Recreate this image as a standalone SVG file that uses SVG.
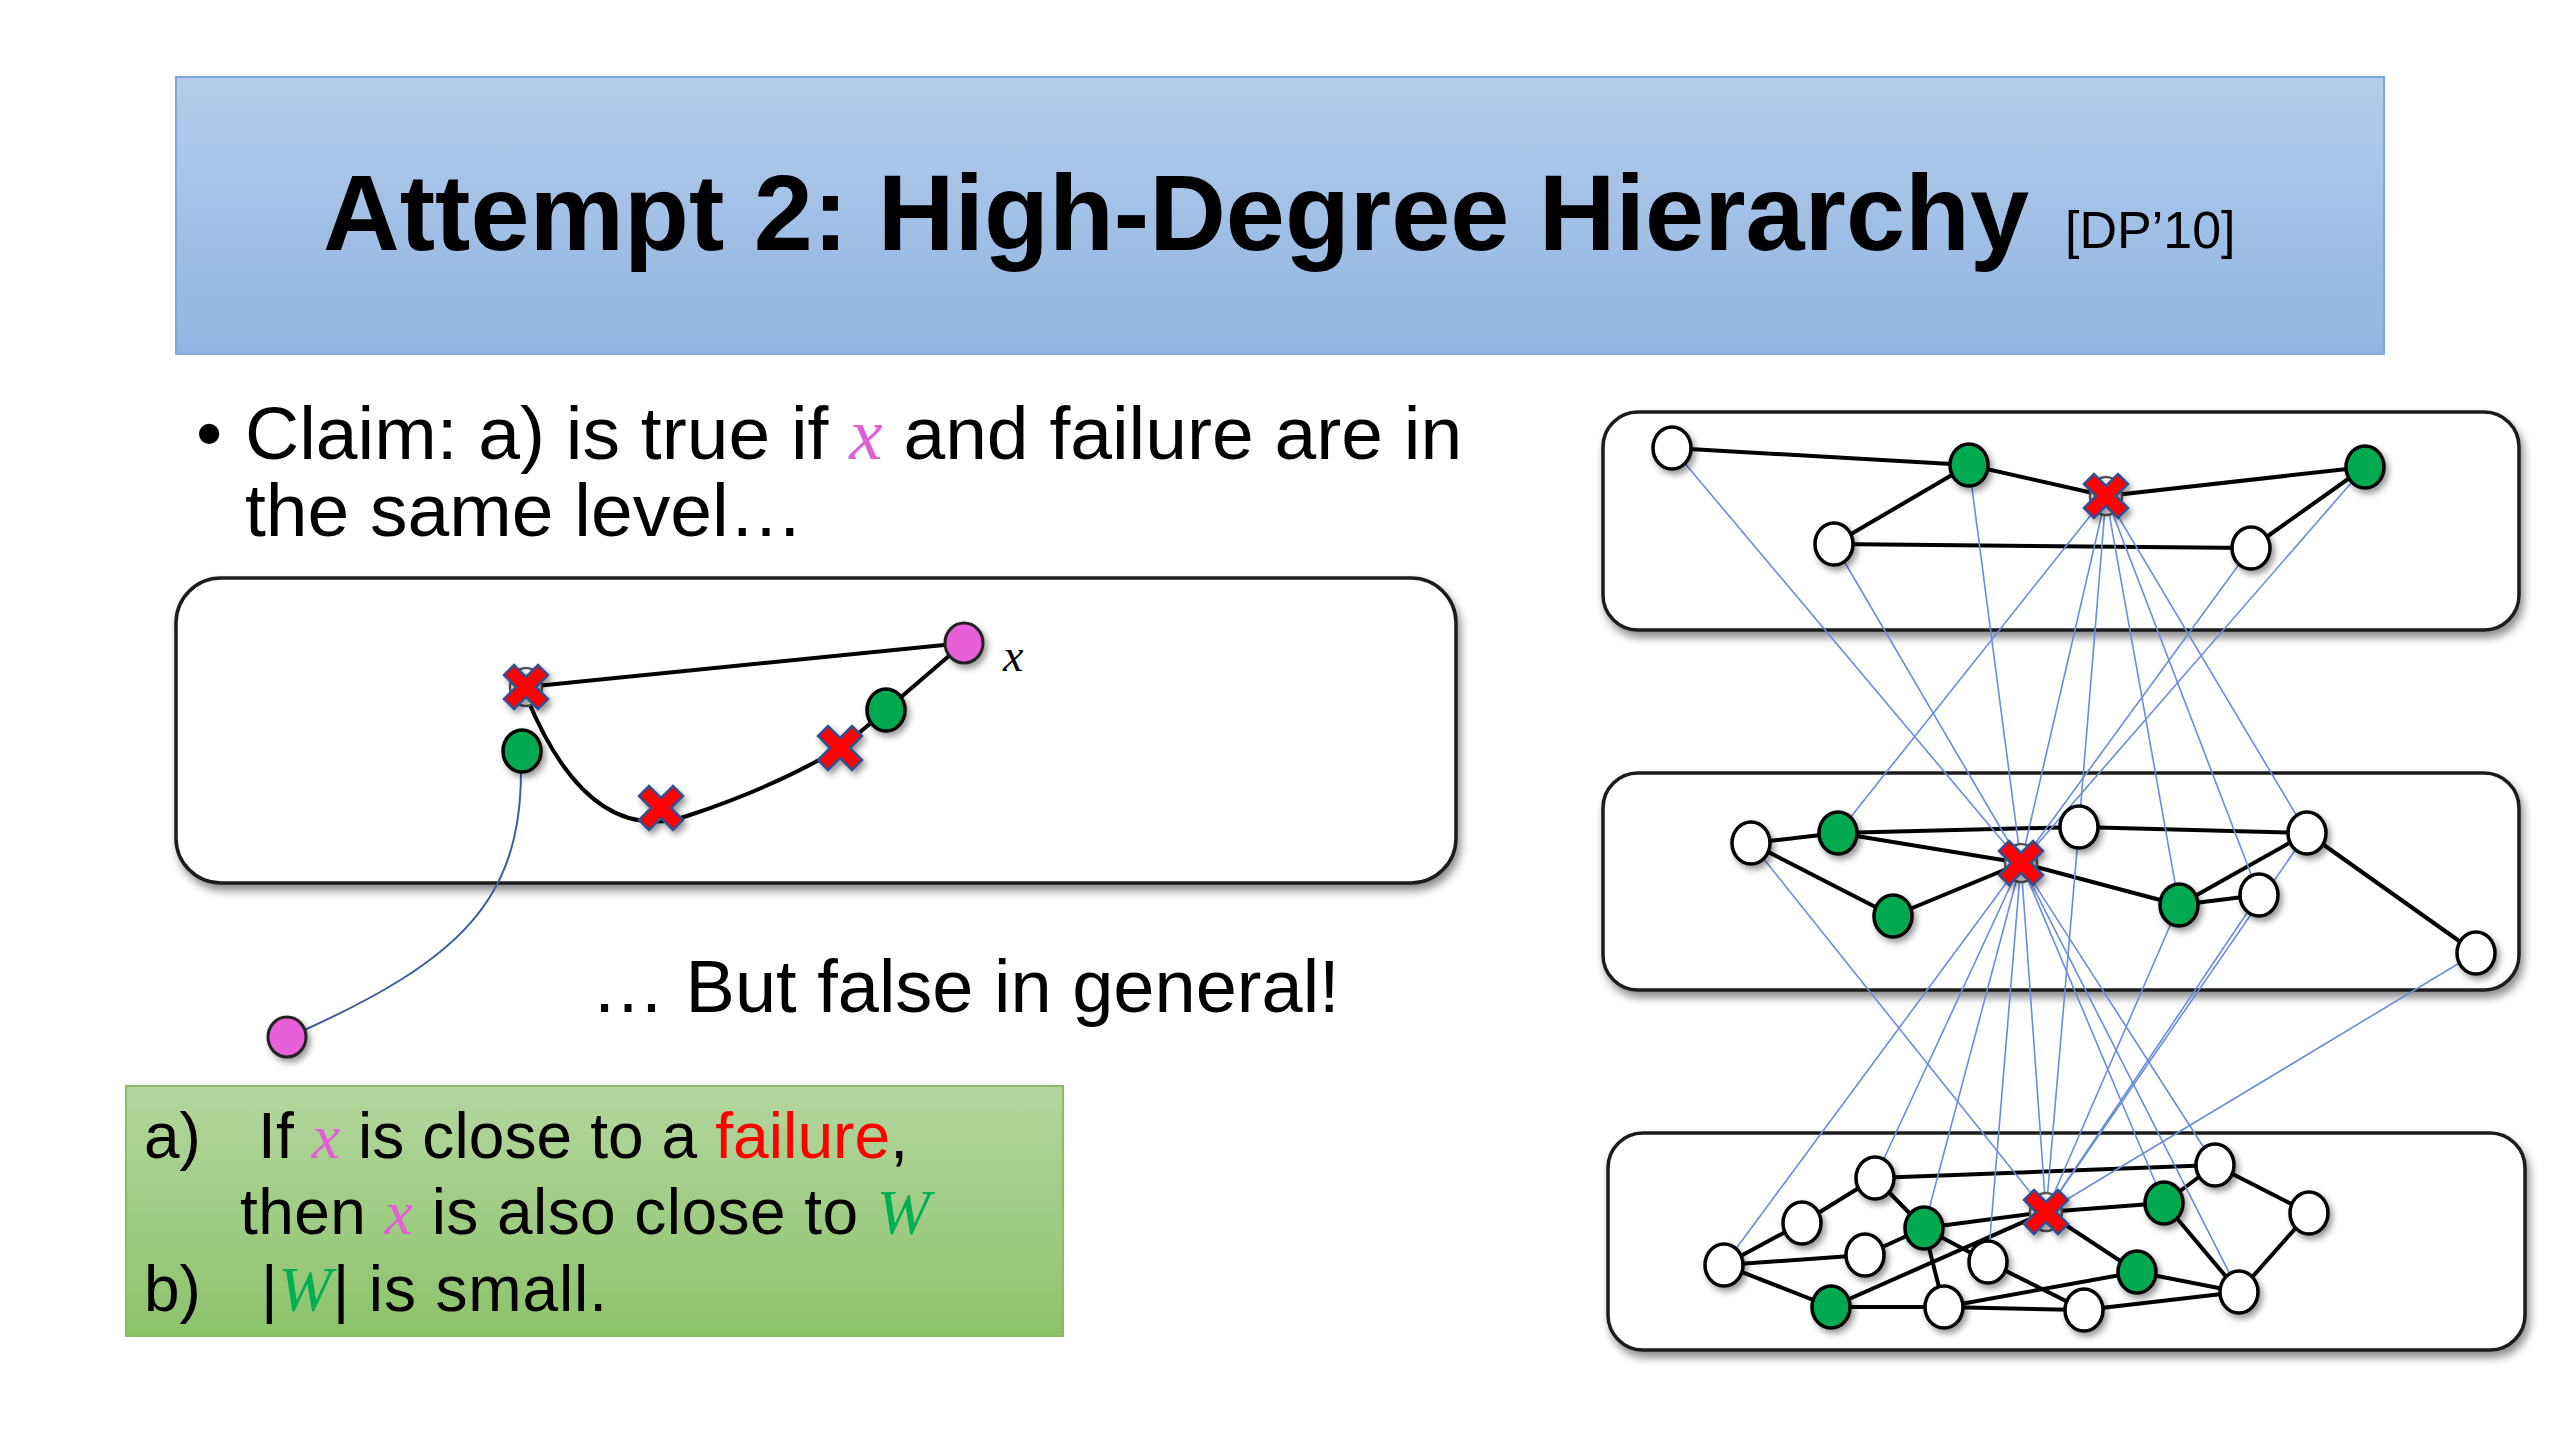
<svg xmlns="http://www.w3.org/2000/svg" width="2560" height="1440" viewBox="0 0 2560 1440">
<defs>
<linearGradient id="gTitle" x1="0" y1="0" x2="0" y2="1"><stop offset="0" stop-color="#b4cdea"/><stop offset="1" stop-color="#90b4e2"/></linearGradient>
<linearGradient id="gGreen" x1="0" y1="0" x2="0" y2="1"><stop offset="0" stop-color="#b3d69e"/><stop offset="1" stop-color="#8dc36b"/></linearGradient>
<filter id="shPanel" x="-5%" y="-10%" width="110%" height="125%"><feDropShadow dx="3" dy="6" stdDeviation="4" flood-color="#000" flood-opacity="0.45"/></filter>
<filter id="shNode" x="-50%" y="-50%" width="200%" height="200%"><feDropShadow dx="3" dy="4" stdDeviation="3" flood-color="#000" flood-opacity="0.4"/></filter>
<polygon id="xmark" points="22,12 12,22 0,10 -12,22 -22,12 -10,0 -22,-12 -12,-22 0,-10 12,-22 22,-12 10,0"/>
<style>
.panel{fill:#fff;stroke:#1a1a1a;stroke-width:3.5;filter:url(#shPanel)}
.nw{fill:#fff;stroke:#000;stroke-width:3.5;filter:url(#shNode)}
.ng{fill:#00a84f;stroke:#000;stroke-width:3.5;filter:url(#shNode)}
.np{fill:#e860d8;stroke:#222;stroke-width:3;filter:url(#shNode)}
.nbehind{fill:#fff;stroke:#555;stroke-width:2.5}
.xm{fill:#ff0000;stroke:#34508f;stroke-width:2.5;filter:url(#shNode)}
.e{stroke:#000;stroke-width:4;fill:none}
.b{stroke:#6a8dd8;stroke-width:1.6;fill:none}
.t{font-family:"Liberation Sans",Arial,sans-serif;fill:#000}
.m{font-family:"Liberation Serif","Times New Roman",serif;font-style:italic}
</style>
</defs>
<rect width="2560" height="1440" fill="#fff"/>

<g id="title">
<rect x="176" y="77" width="2208" height="277" fill="url(#gTitle)" stroke="#82a8da" stroke-width="2"/>
<text class="t" x="323" y="250" font-size="108" font-weight="bold" textLength="1706" lengthAdjust="spacingAndGlyphs">Attempt 2: High-Degree Hierarchy</text>
<text class="t" x="2065" y="248" font-size="52">[DP’10]</text>
</g>

<g id="claim">
<text class="t" x="196" y="459" font-size="75">•</text>
<text class="t" x="245" y="459" font-size="75">Claim: a) is true if <tspan class="m" fill="#e25fd3">x</tspan> and failure are in</text>
<text class="t" x="245" y="536" font-size="75">the same level…</text>
</g>

<g id="panels">
<rect id="left-panel" class="panel" x="176" y="578" width="1280" height="305" rx="45"/>
<rect id="level-top" class="panel" x="1603" y="412" width="916" height="218" rx="35"/>
<rect id="level-mid" class="panel" x="1603" y="773" width="916" height="217" rx="35"/>
<rect id="level-bottom" class="panel" x="1608" y="1133" width="917" height="217" rx="35"/>
</g>

<g id="connectors">
<g id="left-edges">
<line class="e" x1="526" y1="687" x2="964" y2="643"/>
<path class="e" d="M527 698 Q590 850 690 815 Q780 785 845 745 L886 710 L964 643"/>
<path d="M521 771 C521 900 460 960 300 1032" stroke="#3e5f9e" stroke-width="2" fill="none"/>
</g>
<g id="edges-top">
<line class="e" x1="1672" y1="448" x2="1969" y2="465"/>
<line class="e" x1="1969" y1="465" x2="2106" y2="496"/>
<line class="e" x1="2106" y1="496" x2="2365" y2="467"/>
<line class="e" x1="1969" y1="465" x2="1834" y2="544"/>
<line class="e" x1="1834" y1="544" x2="2251" y2="548"/>
<line class="e" x1="2251" y1="548" x2="2365" y2="467"/>
</g>
<g id="edges-mid">
<line class="e" x1="1751" y1="843" x2="1838" y2="833"/>
<line class="e" x1="1838" y1="833" x2="2079" y2="827"/>
<line class="e" x1="2079" y1="827" x2="2307" y2="833"/>
<line class="e" x1="1838" y1="833" x2="2021" y2="863"/>
<line class="e" x1="1751" y1="843" x2="1893" y2="916"/>
<line class="e" x1="1893" y1="916" x2="2021" y2="863"/>
<line class="e" x1="2021" y1="863" x2="2179" y2="905"/>
<line class="e" x1="2179" y1="905" x2="2307" y2="833"/>
<line class="e" x1="2179" y1="905" x2="2259" y2="895"/>
<line class="e" x1="2307" y1="833" x2="2476" y2="953"/>
</g>
<g id="edges-bottom">
<line class="e" x1="1875" y1="1178" x2="2215" y2="1165"/>
<line class="e" x1="1875" y1="1178" x2="1802" y2="1223"/>
<line class="e" x1="1802" y1="1223" x2="1724" y2="1265"/>
<line class="e" x1="1724" y1="1265" x2="1865" y2="1255"/>
<line class="e" x1="1724" y1="1265" x2="1831" y2="1307"/>
<line class="e" x1="1875" y1="1178" x2="1924" y2="1228"/>
<line class="e" x1="1924" y1="1228" x2="1865" y2="1255"/>
<line class="e" x1="1924" y1="1228" x2="2046" y2="1212"/>
<line class="e" x1="1924" y1="1228" x2="1944" y2="1307"/>
<line class="e" x1="1924" y1="1228" x2="1988" y2="1262"/>
<line class="e" x1="1831" y1="1307" x2="2046" y2="1212"/>
<line class="e" x1="1831" y1="1307" x2="1944" y2="1307"/>
<line class="e" x1="1944" y1="1307" x2="2084" y2="1310"/>
<line class="e" x1="1944" y1="1307" x2="2137" y2="1272"/>
<line class="e" x1="1988" y1="1262" x2="2084" y2="1310"/>
<line class="e" x1="2046" y1="1212" x2="2164" y2="1203"/>
<line class="e" x1="2046" y1="1212" x2="2137" y2="1272"/>
<line class="e" x1="2164" y1="1203" x2="2215" y2="1165"/>
<line class="e" x1="2164" y1="1203" x2="2239" y2="1292"/>
<line class="e" x1="2215" y1="1165" x2="2309" y2="1213"/>
<line class="e" x1="2309" y1="1213" x2="2239" y2="1292"/>
<line class="e" x1="2137" y1="1272" x2="2239" y2="1292"/>
<line class="e" x1="2084" y1="1310" x2="2239" y2="1292"/>
</g>
<g id="cross-level-links">
<line class="b" x1="1672" y1="448" x2="2021" y2="863"/>
<line class="b" x1="1834" y1="544" x2="2021" y2="863"/>
<line class="b" x1="1969" y1="465" x2="2021" y2="863"/>
<line class="b" x1="2251" y1="548" x2="2021" y2="863"/>
<line class="b" x1="2365" y1="467" x2="2021" y2="863"/>
<line class="b" x1="2106" y1="496" x2="1838" y2="833"/>
<line class="b" x1="2106" y1="496" x2="2021" y2="863"/>
<line class="b" x1="2106" y1="496" x2="2079" y2="827"/>
<line class="b" x1="2106" y1="496" x2="2179" y2="905"/>
<line class="b" x1="2106" y1="496" x2="2259" y2="895"/>
<line class="b" x1="2106" y1="496" x2="2307" y2="833"/>
<line class="b" x1="1751" y1="843" x2="2046" y2="1212"/>
<line class="b" x1="2079" y1="827" x2="2046" y2="1212"/>
<line class="b" x1="2179" y1="905" x2="2046" y2="1212"/>
<line class="b" x1="2259" y1="895" x2="2046" y2="1212"/>
<line class="b" x1="2307" y1="833" x2="2046" y2="1212"/>
<line class="b" x1="2476" y1="953" x2="2046" y2="1212"/>
<line class="b" x1="2021" y1="863" x2="1724" y2="1265"/>
<line class="b" x1="2021" y1="863" x2="1875" y2="1178"/>
<line class="b" x1="2021" y1="863" x2="1924" y2="1228"/>
<line class="b" x1="2021" y1="863" x2="1988" y2="1262"/>
<line class="b" x1="2021" y1="863" x2="2046" y2="1212"/>
<line class="b" x1="2021" y1="863" x2="2164" y2="1203"/>
<line class="b" x1="2021" y1="863" x2="2215" y2="1165"/>
<line class="b" x1="2021" y1="863" x2="2239" y2="1292"/>
</g>
</g>

<g id="left-nodes">
<g id="L-fail1"><ellipse class="nbehind" cx="526" cy="687" rx="16" ry="19"/><use href="#xmark" class="xm" x="526" y="687"/></g>
<g id="L-x"><ellipse class="np" cx="964" cy="643" rx="19" ry="20"/><text class="m" x="1003" y="671" font-size="46" fill="#000">x</text></g>
<g id="L-green1"><ellipse class="ng" cx="522" cy="751" rx="19" ry="21"/></g>
<g id="L-green2"><ellipse class="ng" cx="886" cy="710" rx="19" ry="21"/></g>
<g id="L-fail2"><use href="#xmark" class="xm" x="840" y="748"/></g>
<g id="L-fail3"><use href="#xmark" class="xm" x="661" y="808"/></g>
<g id="L-x2"><ellipse class="np" cx="287" cy="1037" rx="19" ry="20"/></g>
</g>

<g id="but-false">
<text class="t" x="591" y="1012" font-size="74">… But false in general!</text>
</g>

<g id="conditions">
<rect x="126" y="1086" width="937" height="250" fill="url(#gGreen)" stroke="#86be68" stroke-width="2"/>
<text class="t" x="144" y="1158" font-size="64">a)</text>
<text class="t" x="258" y="1158" font-size="64" textLength="650">If <tspan class="m" fill="#e25fd3">x</tspan> is close to a <tspan fill="#ff0000">failure</tspan>,</text>
<text class="t" x="240" y="1234" font-size="64" textLength="690">then <tspan class="m" fill="#e25fd3">x</tspan> is also close to <tspan class="m" fill="#00b050">W</tspan></text>
<text class="t" x="144" y="1311" font-size="64">b)</text>
<text class="t" x="261" y="1311" font-size="64" textLength="346">|<tspan class="m" fill="#00b050">W</tspan>| is small.</text>
</g>

<g id="nodes-top">
<g id="t-a"><ellipse class="nw" cx="1672" cy="448" rx="19" ry="21"/></g>
<g id="t-b"><ellipse class="ng" cx="1969" cy="465" rx="19" ry="21"/></g>
<g id="t-x"><ellipse class="nbehind" cx="2106" cy="496" rx="16" ry="19"/><use href="#xmark" class="xm" x="2106" y="496"/></g>
<g id="t-d"><ellipse class="ng" cx="2365" cy="467" rx="19" ry="21"/></g>
<g id="t-e"><ellipse class="nw" cx="1834" cy="544" rx="19" ry="21"/></g>
<g id="t-f"><ellipse class="nw" cx="2251" cy="548" rx="19" ry="21"/></g>
</g>
<g id="nodes-mid">
<g id="m-g"><ellipse class="nw" cx="1751" cy="843" rx="19" ry="21"/></g>
<g id="m-h"><ellipse class="ng" cx="1838" cy="833" rx="19" ry="21"/></g>
<g id="m-i"><ellipse class="nw" cx="2079" cy="827" rx="19" ry="21"/></g>
<g id="m-j"><ellipse class="nw" cx="2307" cy="833" rx="19" ry="21"/></g>
<g id="m-l"><ellipse class="ng" cx="1893" cy="916" rx="19" ry="21"/></g>
<g id="m-m"><ellipse class="ng" cx="2179" cy="905" rx="19" ry="21"/></g>
<g id="m-n"><ellipse class="nw" cx="2259" cy="895" rx="19" ry="21"/></g>
<g id="m-o"><ellipse class="nw" cx="2476" cy="953" rx="19" ry="21"/></g>
<g id="m-x"><ellipse class="nbehind" cx="2021" cy="863" rx="16" ry="19"/><use href="#xmark" class="xm" x="2021" y="863"/></g>
</g>
<g id="nodes-bottom">
<g id="b-p"><ellipse class="nw" cx="1875" cy="1178" rx="19" ry="21"/></g>
<g id="b-q"><ellipse class="nw" cx="2215" cy="1165" rx="19" ry="21"/></g>
<g id="b-r"><ellipse class="nw" cx="1802" cy="1223" rx="19" ry="21"/></g>
<g id="b-s"><ellipse class="ng" cx="1924" cy="1228" rx="19" ry="21"/></g>
<g id="b-u"><ellipse class="ng" cx="2164" cy="1203" rx="19" ry="21"/></g>
<g id="b-v"><ellipse class="nw" cx="2309" cy="1213" rx="19" ry="21"/></g>
<g id="b-w"><ellipse class="nw" cx="1724" cy="1265" rx="19" ry="21"/></g>
<g id="b-y"><ellipse class="nw" cx="1865" cy="1255" rx="19" ry="21"/></g>
<g id="b-z"><ellipse class="nw" cx="1988" cy="1262" rx="19" ry="21"/></g>
<g id="b-aa"><ellipse class="ng" cx="2137" cy="1272" rx="19" ry="21"/></g>
<g id="b-bb"><ellipse class="ng" cx="1831" cy="1307" rx="19" ry="21"/></g>
<g id="b-cc"><ellipse class="nw" cx="1944" cy="1307" rx="19" ry="21"/></g>
<g id="b-dd"><ellipse class="nw" cx="2084" cy="1310" rx="19" ry="21"/></g>
<g id="b-ee"><ellipse class="nw" cx="2239" cy="1292" rx="19" ry="21"/></g>
<g id="b-x"><ellipse class="nbehind" cx="2046" cy="1212" rx="16" ry="19"/><use href="#xmark" class="xm" x="2046" y="1212"/></g>
</g>
</svg>
